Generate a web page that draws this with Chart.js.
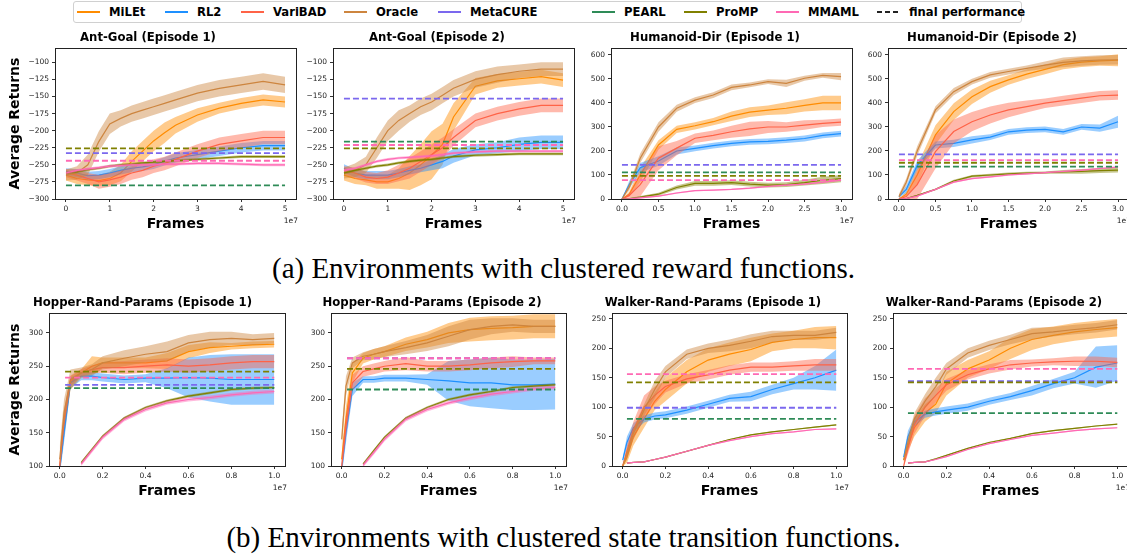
<!DOCTYPE html>
<html>
<head>
<meta charset="utf-8">
<script src="https://cdn.jsdelivr.net/npm/chart.js@4"></script>
<style>
  body { margin: 0; width: 1127px; height: 554px; overflow: hidden; background: #fff; position: relative; font-family: 'DejaVu Sans', sans-serif; }
  #legend { position: absolute; left: 73px; top: 1px; width: 947px; height: 20px; border: 1px solid #d0d0d0; border-radius: 3px; }
  .swatch { position: absolute; top: 9px; width: 23px; height: 2px; }
  .label { position: absolute; top: 0; line-height: 20px; font-weight: bold; font-size: 11.6px; color: #000; white-space: nowrap; }
  .caption { position: absolute; left: 0; width: 1127px; text-align: center; font-family: 'Liberation Serif', serif; font-size: 29px; line-height: 32px; color: #000; }
  canvas { position: absolute; }
</style>
</head>
<body>
<div id="legend"></div>
<div class="caption" style="top:252px">(a) Environments with clustered reward functions.</div>
<div class="caption" style="top:521px">(b) Environments with clustered state transition functions.</div>
<script>
// methods in legend order
const methods = ['MiLEt', 'RL2', 'VariBAD', 'Oracle', 'MetaCURE', 'PEARL', 'ProMP', 'MMAML'];

// frames (x 1e7)
const antFrames = [0, 0.25, 0.5, 0.75, 1, 1.25, 1.5, 1.75, 2, 2.25, 2.5, 3, 3.5, 4, 4.5, 5];
const humFrames = [0, 0.1, 0.25, 0.5, 0.75, 1, 1.25, 1.5, 1.75, 2, 2.25, 2.5, 2.75, 3];
const randFrames = [0, 0.02, 0.05, 0.1, 0.15, 0.2, 0.3, 0.4, 0.5, 0.6, 0.7, 0.8, 0.9, 1.0];

// Ant-Goal (Episode 1)
const ag1Milet = [-265, -270, -272, -273, -270, -262, -245, -230, -215, -203, -192, -177, -167, -160, -155, -158];
const ag1MiletBand = [8, 8, 8, 8, 10, 12, 15, 15, 15, 15, 12, 10, 8, 8, 8, 8];
const ag1Rl2 = [-260, -262, -266, -265, -262, -258, -255, -253, -250, -245, -240, -235, -230, -225, -222, -222];
const ag1Rl2Band = [5, 6, 6, 6, 6, 6, 6, 6, 6, 6, 7, 7, 7, 7, 7, 7];
const ag1Varibad = [-262, -265, -270, -275, -272, -268, -262, -258, -252, -248, -242, -230, -220, -215, -210, -210];
const ag1VaribadBand = [6, 8, 8, 10, 10, 10, 10, 10, 10, 10, 10, 10, 10, 10, 10, 10];
const ag1Oracle = [-265, -262, -250, -216, -190, -182, -175, -170, -165, -160, -155, -145, -138, -133, -128, -133];
const ag1OracleBand = [8, 10, 15, 15, 15, 12, 12, 12, 12, 12, 12, 12, 12, 12, 12, 12];
const ag1Promp = [-262, -260, -257, -255, -252, -250, -249, -247, -246, -245, -244, -242, -240, -238, -238, -238];
const ag1PrompBand = [2, 2, 2, 2, 2, 2, 2, 2, 2, 2, 2, 2, 2, 2, 2, 2];
const ag1Mmaml = [-262, -258, -256, -254, -252, -251, -250, -250, -250, -249, -249, -248, -248, -249, -250, -250];
const ag1MmamlBand = [2, 2, 2, 2, 2, 2, 2, 2, 2, 2, 2, 2, 2, 2, 2, 2];
const ag1Final = { MetaCURE: -233, PEARL: -280, ProMP: -226, MMAML: -244 };

// Ant-Goal (Episode 2)
const ag2Milet = [-265, -270, -272, -275, -275, -270, -262, -250, -236, -220, -180, -135, -127, -124, -121, -126];
const ag2MiletBand = [8, 8, 8, 10, 10, 15, 25, 30, 35, 30, 20, 12, 10, 10, 10, 10];
const ag2Rl2 = [-255, -262, -265, -265, -265, -262, -258, -255, -250, -245, -237, -228, -225, -220, -217, -217];
const ag2Rl2Band = [6, 6, 6, 6, 6, 6, 6, 6, 8, 10, 10, 8, 8, 10, 10, 10];
const ag2Varibad = [-258, -262, -268, -270, -268, -262, -255, -245, -235, -225, -210, -185, -175, -168, -163, -163];
const ag2VaribadBand = [6, 8, 8, 8, 10, 12, 15, 15, 15, 15, 12, 10, 10, 10, 10, 10];
const ag2Oracle = [-262, -258, -250, -225, -200, -185, -175, -165, -158, -148, -138, -125, -118, -113, -110, -110];
const ag2OracleBand = [8, 10, 12, 15, 15, 15, 12, 12, 12, 12, 12, 12, 12, 10, 10, 10];
const ag2Promp = [-262, -258, -255, -252, -250, -247, -245, -243, -242, -240, -238, -236, -235, -234, -234, -234];
const ag2PrompBand = [2, 2, 2, 2, 2, 2, 2, 2, 2, 2, 2, 2, 2, 2, 2, 2];
const ag2Mmaml = [-258, -255, -250, -245, -242, -240, -239, -238, -237, -235, -233, -231, -230, -230, -230, -230];
const ag2MmamlBand = [2, 2, 2, 2, 2, 2, 2, 2, 2, 2, 2, 2, 2, 2, 2, 2];
const ag2Final = { MetaCURE: -153, PEARL: -216, ProMP: -226, MMAML: -221 };

// Humanoid-Dir (Episode 1)
const hd1Milet = [0, 20, 100, 225, 290, 305, 322, 345, 362, 370, 378, 390, 400, 400];
const hd1MiletBand = [0, 10, 30, 20, 15, 15, 15, 20, 20, 20, 25, 25, 30, 30];
const hd1Rl2 = [0, 60, 130, 158, 200, 211, 222, 232, 238, 240, 245, 252, 265, 272];
const hd1Rl2Band = [0, 15, 20, 20, 15, 12, 12, 12, 12, 12, 12, 12, 12, 12];
const hd1Varibad = [0, 15, 60, 170, 212, 253, 265, 280, 292, 300, 300, 308, 315, 320];
const hd1VaribadBand = [0, 10, 50, 50, 30, 20, 20, 25, 30, 25, 20, 20, 15, 15];
const hd1Oracle = [0, 50, 170, 300, 378, 412, 433, 465, 475, 489, 482, 503, 515, 510];
const hd1OracleBand = [0, 15, 20, 20, 15, 12, 12, 12, 10, 10, 15, 10, 10, 15];
const hd1Promp = [0, 2, 8, 20, 48, 65, 65, 68, 62, 58, 60, 68, 78, 85];
const hd1PrompBand = [0, 2, 4, 6, 8, 10, 10, 10, 10, 10, 10, 12, 15, 15];
const hd1Mmaml = [0, 1, 5, 12, 25, 35, 37, 40, 45, 52, 58, 62, 70, 78];
const hd1MmamlBand = [0, 2, 3, 3, 3, 3, 3, 3, 3, 3, 3, 3, 3, 3];
const hd1Final = { MetaCURE: 142, PEARL: 111, ProMP: 96, MMAML: 79 };

// Humanoid-Dir (Episode 2)
const hd2Milet = [0, 20, 100, 267, 364, 426, 468, 496, 520, 540, 560, 570, 575, 578];
const hd2MiletBand = [0, 10, 40, 40, 35, 30, 25, 20, 20, 20, 20, 20, 20, 25];
const hd2Rl2 = [10, 40, 140, 225, 232, 246, 258, 280, 287, 290, 280, 300, 295, 322];
const hd2Rl2Band = [5, 15, 20, 15, 15, 15, 12, 12, 12, 12, 12, 12, 15, 25];
const hd2Varibad = [0, 10, 60, 197, 281, 322, 350, 371, 385, 399, 410, 420, 430, 433];
const hd2VaribadBand = [0, 10, 60, 70, 50, 40, 35, 30, 25, 20, 20, 20, 20, 20];
const hd2Oracle = [10, 70, 200, 371, 447, 489, 517, 531, 544, 558, 569, 575, 579, 580];
const hd2OracleBand = [10, 15, 20, 15, 15, 12, 12, 12, 12, 15, 20, 20, 20, 20];
const hd2Promp = [0, 2, 15, 40, 75, 95, 100, 105, 108, 110, 113, 115, 118, 120];
const hd2PrompBand = [0, 2, 3, 4, 5, 5, 5, 5, 5, 5, 8, 10, 10, 10];
const hd2Mmaml = [0, 2, 12, 40, 70, 85, 92, 100, 105, 110, 115, 120, 127, 133];
const hd2MmamlBand = [0, 2, 3, 3, 3, 3, 3, 3, 3, 3, 3, 3, 3, 3];
const hd2Final = { MetaCURE: 186, PEARL: 135, ProMP: 151, MMAML: 162 };

// Hopper-Rand-Params (Episode 1)
const hp1Milet = [100, 160, 225, 240, 250, 255, 255, 255, 258, 272, 278, 280, 282, 283];
const hp1MiletBand = [10, 20, 10, 5, 15, 8, 8, 8, 12, 10, 8, 5, 5, 5];
const hp1Rl2 = [95, 150, 225, 235, 235, 233, 230, 232, 232, 233, 232, 230, 230, 230];
const hp1Rl2Band = [10, 15, 8, 6, 6, 6, 6, 6, 15, 30, 35, 38, 38, 38];
const hp1Varibad = [100, 170, 228, 240, 245, 248, 248, 250, 252, 250, 252, 255, 257, 257];
const hp1VaribadBand = [10, 15, 8, 6, 6, 8, 10, 10, 10, 10, 10, 10, 10, 10];
const hp1Oracle = [110, 180, 230, 240, 245, 255, 262, 268, 272, 285, 290, 292, 290, 292];
const hp1OracleBand = [20, 20, 15, 8, 8, 10, 12, 12, 15, 12, 12, 10, 8, 8];
const hp1Promp = [null, null, null, 105, 125, 145, 172, 188, 198, 205, 210, 215, 217, 218];
const hp1PrompBand = [0, 0, 0, 2, 2, 2, 2, 2, 2, 2, 2, 2, 2, 2];
const hp1Mmaml = [null, null, null, 103, 123, 143, 170, 185, 195, 200, 203, 207, 210, 212];
const hp1MmamlBand = [0, 0, 0, 3, 3, 3, 3, 3, 3, 3, 3, 3, 3, 3];
const hp1Final = { MetaCURE: 222, PEARL: 217, ProMP: 242, MMAML: 233 };

// Hopper-Rand-Params (Episode 2)
const hp2Milet = [110, 170, 240, 262, 268, 272, 283, 290, 300, 305, 307, 308, 310, 310];
const hp2MiletBand = [10, 20, 15, 8, 8, 8, 10, 12, 15, 18, 18, 18, 18, 18];
const hp2Rl2 = [95, 150, 215, 230, 230, 232, 232, 230, 228, 225, 225, 222, 222, 223];
const hp2Rl2Band = [10, 15, 10, 5, 5, 5, 5, 8, 30, 35, 38, 38, 38, 38];
const hp2Varibad = [100, 160, 225, 242, 246, 250, 254, 250, 250, 252, 255, 257, 258, 258];
const hp2VaribadBand = [10, 15, 12, 8, 8, 8, 10, 8, 8, 8, 8, 8, 5, 5];
const hp2Oracle = [140, 220, 255, 265, 268, 272, 278, 285, 295, 305, 310, 312, 310, 310];
const hp2OracleBand = [15, 15, 8, 6, 8, 8, 10, 12, 15, 15, 12, 10, 10, 10];
const hp2Promp = [null, null, null, 103, 123, 143, 172, 188, 200, 207, 212, 218, 220, 222];
const hp2PrompBand = [0, 0, 0, 2, 2, 2, 2, 2, 2, 2, 2, 2, 2, 2];
const hp2Mmaml = [null, null, null, 101, 120, 140, 170, 185, 195, 202, 208, 212, 216, 218];
const hp2MmamlBand = [0, 0, 0, 3, 3, 3, 3, 3, 3, 3, 3, 3, 3, 3];
const hp2Final = { MetaCURE: 262, PEARL: 215, ProMP: 246, MMAML: 262 };

// Walker-Rand-Params (Episode 1)
const wk1Milet = [0, 15, 50, 80, 110, 130, 160, 180, 190, 198, 210, 215, 218, 218];
const wk1MiletBand = [0, 10, 15, 15, 15, 20, 20, 20, 20, 20, 15, 15, 18, 20];
const wk1Rl2 = [10, 40, 65, 80, 85, 87, 95, 105, 115, 118, 130, 140, 150, 163];
const wk1Rl2Band = [5, 10, 8, 6, 6, 6, 6, 6, 6, 8, 8, 10, 20, 35];
const wk1Varibad = [0, 25, 60, 100, 120, 135, 148, 155, 163, 168, 168, 170, 172, 172];
const wk1VaribadBand = [0, 10, 15, 20, 15, 10, 8, 8, 8, 8, 8, 8, 10, 10];
const wk1Oracle = [0, 20, 55, 95, 130, 160, 190, 200, 205, 212, 220, 222, 222, 227];
const wk1OracleBand = [0, 10, 10, 10, 15, 10, 8, 8, 10, 12, 10, 8, 8, 8];
const wk1Promp = [null, 5, 6, 7, 11, 15, 25, 35, 45, 53, 58, 62, 66, 70];
const wk1PrompBand = [0, 1, 1, 1, 1, 1, 1, 1, 1, 1, 1, 1, 1, 1];
const wk1Mmaml = [null, 5, 6, 7, 11, 15, 25, 35, 43, 50, 55, 58, 62, 63];
const wk1MmamlBand = [0, 1, 1, 1, 1, 1, 1, 1, 1, 1, 1, 1, 1, 1];
const wk1Final = { MetaCURE: 99, PEARL: 80, ProMP: 142, MMAML: 156 };

// Walker-Rand-Params (Episode 2)
const wk2Milet = [10, 35, 65, 90, 105, 140, 165, 180, 200, 215, 222, 228, 232, 235];
const wk2MiletBand = [5, 10, 15, 15, 15, 20, 15, 15, 18, 18, 15, 15, 15, 15];
const wk2Rl2 = [15, 50, 75, 88, 92, 95, 100, 110, 118, 128, 140, 150, 168, 175];
const wk2Rl2Band = [5, 10, 8, 6, 6, 6, 6, 6, 6, 8, 8, 10, 35, 30];
const wk2Varibad = [0, 30, 70, 100, 120, 138, 155, 165, 172, 175, 177, 178, 178, 176];
const wk2VaribadBand = [0, 10, 15, 15, 12, 10, 8, 8, 8, 6, 6, 8, 8, 8];
const wk2Oracle = [10, 40, 80, 110, 135, 165, 192, 205, 215, 225, 228, 232, 235, 240];
const wk2OracleBand = [5, 10, 10, 12, 15, 10, 8, 8, 8, 10, 8, 8, 8, 8];
const wk2Promp = [null, 5, 6, 7, 12, 18, 30, 40, 47, 55, 60, 64, 68, 71];
const wk2PrompBand = [0, 1, 1, 1, 1, 1, 1, 1, 1, 1, 1, 1, 1, 1];
const wk2Mmaml = [null, 5, 6, 7, 11, 16, 28, 38, 45, 52, 56, 60, 63, 65];
const wk2MmamlBand = [0, 1, 1, 1, 1, 1, 1, 1, 1, 1, 1, 1, 1, 1];
const wk2Final = { MetaCURE: 144, PEARL: 90, ProMP: 142, MMAML: 165 };

// colours
const colors = {
  MiLEt: '#ff8c00', RL2: '#1e90ff', VariBAD: '#ff6347', Oracle: '#cd853f',
  MetaCURE: '#7b68ee', PEARL: '#2e8b57', ProMP: '#808000', MMAML: '#ff69b4'
};

// legend, swatch x positions inside the box
const legendX = [3, 91, 167, 270, 364, 518, 610, 702, 803];
const legend = document.getElementById('legend');
methods.concat(['final performance']).forEach((name, i) => {
  const sw = document.createElement('div');
  sw.className = 'swatch';
  sw.style.left = legendX[i] + 'px';
  if (colors[name]) {
    sw.style.background = colors[name];
  } else {
    sw.style.background = 'repeating-linear-gradient(to right, #222 0 5px, transparent 5px 8px)';
  }
  const label = document.createElement('span');
  label.className = 'label';
  label.style.left = (legendX[i] + 32) + 'px';
  label.textContent = name;
  legend.appendChild(sw);
  legend.appendChild(label);
});

function rgba(hex, a) {
  const n = parseInt(hex.slice(1), 16);
  return 'rgba(' + (n >> 16) + ',' + ((n >> 8) & 255) + ',' + (n & 255) + ',' + a + ')';
}

function pts(xs, ys) {
  return xs.map((x, i) => ({ x: x, y: ys[i] }));
}

function buildDatasets(xs, curves, finals, x0, x1) {
  const ds = [];
  curves.forEach(([name, mean, band]) => {
    const c = colors[name];
    const lo = mean.map((v, i) => v === null ? null : v - band[i]);
    const hi = mean.map((v, i) => v === null ? null : v + band[i]);
    const loIdx = ds.length;
    ds.push({ data: pts(xs, lo), borderWidth: 0, borderColor: 'transparent', pointRadius: 0, fill: false });
    ds.push({ data: pts(xs, hi), borderWidth: 0, borderColor: 'transparent', pointRadius: 0, fill: { target: loIdx }, backgroundColor: rgba(c, 0.45) });
    ds.push({ data: pts(xs, mean), borderColor: c, borderWidth: 1.2, pointRadius: 0, fill: false });
  });
  ['MetaCURE', 'PEARL', 'ProMP', 'MMAML'].forEach(name => {
    if (finals[name] === undefined) return;
    ds.push({ data: [{ x: x0, y: finals[name] }, { x: x1, y: finals[name] }], borderColor: colors[name], borderWidth: 1.8, borderDash: [6, 3], pointRadius: 0, fill: false });
  });
  // earlier datasets underneath
  ds.forEach((d, i) => { d.order = 1000 - i; });
  return ds;
}

// frame + offset text
const framePlugin = {
  id: 'frame',
  afterDatasetsDraw(chart) {
    const a = chart.chartArea;
    const ctx = chart.ctx;
    ctx.save();
    ctx.strokeStyle = '#222';
    ctx.lineWidth = 1;
    ctx.strokeRect(Math.round(a.left) + 0.5, Math.round(a.top) + 0.5, Math.round(a.right - a.left), Math.round(a.bottom - a.top));
    ctx.fillStyle = '#222';
    ctx.font = '7.5px "DejaVu Sans"';
    ctx.textAlign = 'right';
    ctx.textBaseline = 'middle';
    ctx.fillText('1e7', a.right + 2, a.bottom + 22);
    ctx.restore();
  }
};

const minus = v => (v < 0 ? '\u2212' + Math.abs(v) : String(v));

function makeChart(p) {
  const cv = document.createElement('canvas');
  cv.width = p.yw + p.aw + 10;
  cv.height = p.h;
  cv.style.left = p.left + 'px';
  cv.style.top = p.top + 'px';
  document.body.appendChild(cv);
  new Chart(cv, {
    type: 'line',
    data: { datasets: buildDatasets(p.xs, p.curves, p.finals, p.x0, p.x1) },
    options: {
      responsive: false,
      animation: false,
      events: [],
      layout: { padding: { left: 0, right: 10, top: 0, bottom: 0 } },
      plugins: {
        legend: { display: false },
        tooltip: { enabled: false },
        title: {
          display: true, text: p.title, color: '#000',
          font: { family: 'DejaVu Sans', size: 11.7, weight: 'bold', lineHeight: '14px' },
          padding: { top: 3, bottom: 3 }
        }
      },
      scales: {
        x: {
          type: 'linear', min: p.xmin, max: p.xmax,
          afterFit: s => { s.height = 33; },
          border: { display: false },
          grid: { drawOnChartArea: false, tickLength: 3, color: '#333' },
          ticks: {
            stepSize: p.xstep, includeBounds: false, autoSkip: false, maxRotation: 0, padding: 3,
            color: '#222', font: { family: 'DejaVu Sans', size: 7.5 },
            callback: v => (p.xdec ? Number(v).toFixed(p.xdec) : String(Math.round(v)))
          },
          title: {
            display: true, text: 'Frames', color: '#000', padding: 0,
            font: { family: 'DejaVu Sans', size: 14, weight: 'bold', lineHeight: '16px' }
          }
        },
        y: {
          type: 'linear', min: p.ymin, max: p.ymax,
          afterFit: s => { s.width = p.yw; },
          border: { display: false },
          grid: { drawOnChartArea: false, tickLength: 3, color: '#333' },
          ticks: {
            stepSize: p.ystep, includeBounds: false, autoSkip: false, padding: 3,
            color: '#222', font: { family: 'DejaVu Sans', size: 7.5 },
            callback: v => minus(Math.round(v))
          },
          title: {
            display: !!p.ylabel, text: 'Average Returns', color: '#000', padding: { top: 7, bottom: 0 },
            font: { family: 'DejaVu Sans', size: 14, weight: 'bold', lineHeight: '16px' }
          }
        }
      }
    },
    plugins: [framePlugin]
  });
}

const antAxes = { xs: antFrames, xmin: -0.25, xmax: 5.25, xstep: 1, xdec: 0, x0: 0, x1: 5, ymin: -300, ymax: -79, ystep: 25 };
const humAxes = { xs: humFrames, xmin: -0.15, xmax: 3.15, xstep: 0.5, xdec: 1, x0: 0, x1: 3, ymin: 0, ymax: 629, ystep: 100 };
const hopAxes = { xs: randFrames, xmin: -0.05, xmax: 1.05, xstep: 0.2, xdec: 1, x0: 0.025, x1: 1, ymin: 100, ymax: 330, ystep: 50 };
const wlkAxes = { xs: randFrames, xmin: -0.05, xmax: 1.05, xstep: 0.2, xdec: 1, x0: 0.02, x1: 1, ymin: 0, ymax: 260, ystep: 50 };

const panels = [
  Object.assign({ title: 'Ant-Goal (Episode 1)', left: 0, top: 28, h: 204, yw: 55, aw: 241, ylabel: true,
    curves: [['MiLEt', ag1Milet, ag1MiletBand], ['RL2', ag1Rl2, ag1Rl2Band], ['VariBAD', ag1Varibad, ag1VaribadBand], ['Oracle', ag1Oracle, ag1OracleBand], ['ProMP', ag1Promp, ag1PrompBand], ['MMAML', ag1Mmaml, ag1MmamlBand]],
    finals: ag1Final }, antAxes),
  Object.assign({ title: 'Ant-Goal (Episode 2)', left: 300, top: 28, h: 204, yw: 33, aw: 241,
    curves: [['MiLEt', ag2Milet, ag2MiletBand], ['RL2', ag2Rl2, ag2Rl2Band], ['VariBAD', ag2Varibad, ag2VaribadBand], ['Oracle', ag2Oracle, ag2OracleBand], ['ProMP', ag2Promp, ag2PrompBand], ['MMAML', ag2Mmaml, ag2MmamlBand]],
    finals: ag2Final }, antAxes),
  Object.assign({ title: 'Humanoid-Dir (Episode 1)', left: 578, top: 28, h: 204, yw: 33, aw: 241,
    curves: [['MiLEt', hd1Milet, hd1MiletBand], ['RL2', hd1Rl2, hd1Rl2Band], ['VariBAD', hd1Varibad, hd1VaribadBand], ['Oracle', hd1Oracle, hd1OracleBand], ['ProMP', hd1Promp, hd1PrompBand], ['MMAML', hd1Mmaml, hd1MmamlBand]],
    finals: hd1Final }, humAxes),
  Object.assign({ title: 'Humanoid-Dir (Episode 2)', left: 855, top: 28, h: 204, yw: 33, aw: 241,
    curves: [['MiLEt', hd2Milet, hd2MiletBand], ['RL2', hd2Rl2, hd2Rl2Band], ['VariBAD', hd2Varibad, hd2VaribadBand], ['Oracle', hd2Oracle, hd2OracleBand], ['ProMP', hd2Promp, hd2PrompBand], ['MMAML', hd2Mmaml, hd2MmamlBand]],
    finals: hd2Final }, humAxes),
  Object.assign({ title: 'Hopper-Rand-Params (Episode 1)', left: 0, top: 293, h: 206, yw: 49, aw: 236, ylabel: true,
    curves: [['MiLEt', hp1Milet, hp1MiletBand], ['RL2', hp1Rl2, hp1Rl2Band], ['VariBAD', hp1Varibad, hp1VaribadBand], ['Oracle', hp1Oracle, hp1OracleBand], ['ProMP', hp1Promp, hp1PrompBand], ['MMAML', hp1Mmaml, hp1MmamlBand]],
    finals: hp1Final }, hopAxes),
  Object.assign({ title: 'Hopper-Rand-Params (Episode 2)', left: 298, top: 293, h: 206, yw: 33, aw: 235,
    curves: [['MiLEt', hp2Milet, hp2MiletBand], ['RL2', hp2Rl2, hp2Rl2Band], ['VariBAD', hp2Varibad, hp2VaribadBand], ['Oracle', hp2Oracle, hp2OracleBand], ['ProMP', hp2Promp, hp2PrompBand], ['MMAML', hp2Mmaml, hp2MmamlBand]],
    finals: hp2Final }, hopAxes),
  Object.assign({ title: 'Walker-Rand-Params (Episode 1)', left: 579, top: 293, h: 206, yw: 33, aw: 235,
    curves: [['MiLEt', wk1Milet, wk1MiletBand], ['RL2', wk1Rl2, wk1Rl2Band], ['VariBAD', wk1Varibad, wk1VaribadBand], ['Oracle', wk1Oracle, wk1OracleBand], ['ProMP', wk1Promp, wk1PrompBand], ['MMAML', wk1Mmaml, wk1MmamlBand]],
    finals: wk1Final }, wlkAxes),
  Object.assign({ title: 'Walker-Rand-Params (Episode 2)', left: 860, top: 293, h: 206, yw: 33, aw: 235,
    curves: [['MiLEt', wk2Milet, wk2MiletBand], ['RL2', wk2Rl2, wk2Rl2Band], ['VariBAD', wk2Varibad, wk2VaribadBand], ['Oracle', wk2Oracle, wk2OracleBand], ['ProMP', wk2Promp, wk2PrompBand], ['MMAML', wk2Mmaml, wk2MmamlBand]],
    finals: wk2Final }, wlkAxes)
];

panels.forEach(makeChart);
</script>
</body>
</html>
